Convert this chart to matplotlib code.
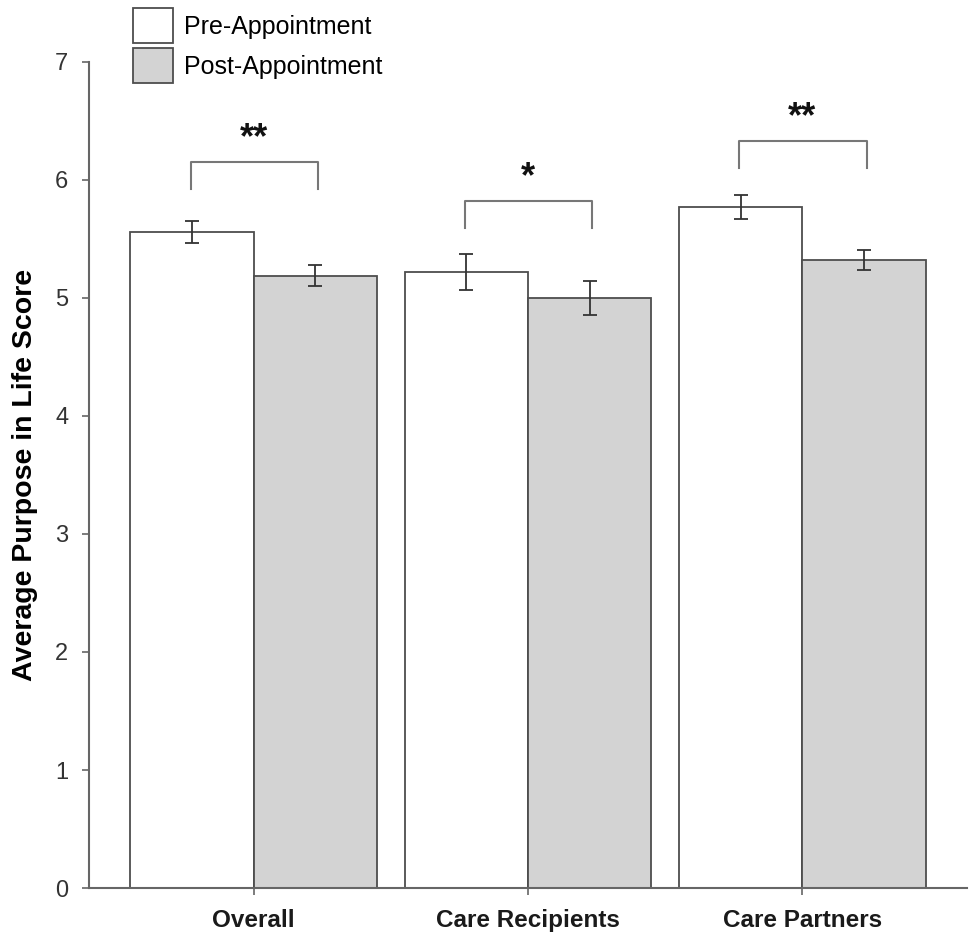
import numpy as np
import matplotlib
matplotlib.use("Agg")
import matplotlib.pyplot as plt

# values
groups = ["Overall", "Care Recipients", "Care Partners"]
pre = [5.56, 5.22, 5.77]
pre_err = [0.095, 0.155, 0.10]
post = [5.19, 5.00, 5.32]
post_err = [0.086, 0.14, 0.085]
stars = ["**", "*", "**"]
bracket_y = [6.15, 5.82, 6.33]

plt.rcParams["font.family"] = ["Liberation Sans", "DejaVu Sans"]

fig = plt.figure(figsize=(9.74, 9.38), dpi=100)
ax = fig.add_axes([89 / 974, 1 - 888 / 938, (967 - 89) / 974, (888 - 62) / 938])

x = np.arange(len(groups))
w = 0.45
edge = "#4d4d4d"
ax.bar(x - w / 2, pre, w, color="white", edgecolor=edge, linewidth=1.3,
       label="Pre-Appointment", zorder=2)
ax.bar(x + w / 2, post, w, color="#d3d3d3", edgecolor=edge, linewidth=1.3,
       label="Post-Appointment", zorder=2)
ax.errorbar(x - w / 2, pre, yerr=pre_err, fmt="none", ecolor="#333333",
            elinewidth=1.3, capsize=5, capthick=1.3, zorder=3)
ax.errorbar(x + w / 2, post, yerr=post_err, fmt="none", ecolor="#333333",
            elinewidth=1.3, capsize=5, capthick=1.3, zorder=3)

# significance brackets
for i in range(len(groups)):
    xl = x[i] - 0.23
    xr = x[i] + 0.235
    yb = bracket_y[i]
    ax.plot([xl, xl, xr, xr], [yb - 0.23, yb, yb, yb - 0.23],
            color="#777777", lw=1.5, zorder=3)
    ax.text(x[i], yb + 0.2, stars[i], ha="center", va="center",
            fontsize=26, fontweight="bold", color="#111111")

ax.set_xlim(-0.6, 2.6)
ax.set_ylim(0, 7)
ax.set_yticks(range(0, 8))
ax.set_xticks(x)
ax.set_xticklabels(groups, fontsize=17.5, fontweight="bold", color="#1a1a1a")
ax.tick_params(axis="y", labelsize=17, labelcolor="#333333", length=5,
               width=1.2, color="#666666", pad=10)
ax.tick_params(axis="x", length=5, width=1.2, color="#666666", pad=10)
ax.set_ylabel("Average Purpose in Life Score", fontsize=20.5, fontweight="bold")
ax.yaxis.set_label_coords(-0.058, 0.5)

for s in ["top", "right"]:
    ax.spines[s].set_visible(False)
for s in ["left", "bottom"]:
    ax.spines[s].set_color("#666666")
    ax.spines[s].set_linewidth(1.5)

ax.legend(loc="upper left", bbox_to_anchor=(133 / 974, 1 - 8 / 938),
          bbox_transform=fig.transFigure, frameon=False, fontsize=18,
          handlelength=1.6, handleheight=1.78, handletextpad=0.45,
          labelspacing=0.2, borderpad=0, borderaxespad=0)

fig.savefig("out.png", dpi=100)
